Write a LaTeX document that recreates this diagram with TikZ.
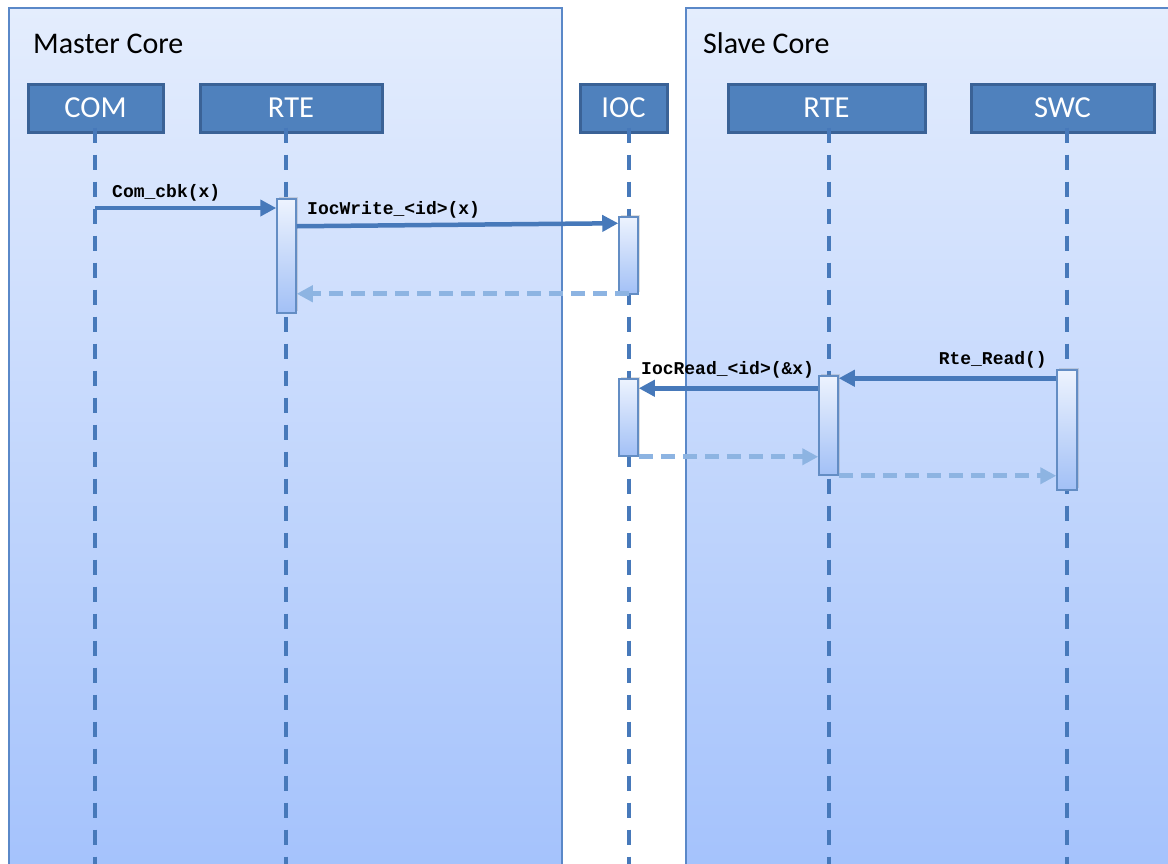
\documentclass[tikz,border=0pt]{standalone}
\usepackage{fontspec}
\setmainfont{Carlito}
\newfontfamily\codefont{Liberation Mono}
\usetikzlibrary{arrows.meta,calc,shadows}
\definecolor{panelTop}{HTML}{E4EDFD}
\definecolor{panelBot}{HTML}{A4C2FC}
\definecolor{panelLine}{HTML}{5A88C8}
\definecolor{headFill}{HTML}{4F81BD}
\definecolor{headLine}{HTML}{3A6296}
\definecolor{life}{HTML}{4779BA}
\definecolor{retLine}{HTML}{8DB4E2}
\definecolor{barTop}{HTML}{EDF3FE}
\definecolor{barBot}{HTML}{A2C0F6}

\tikzset{
  header/.style={draw=headLine, line width=3, fill=headFill, text=white,
    font=\fontsize{30.5}{34}\selectfont, inner sep=0, minimum height=48},
  lifeline/.style={draw=life, line width=3.2, dash pattern=on 15 off 12},
  actbar/.style={draw=life!85, line width=1.5, top color=barTop, bottom color=barBot,
    inner sep=0, minimum width=19,
    drop shadow={opacity=0.25, shadow xshift=1.5, shadow yshift=-2}},
  call/.style={draw=life, line width=4.5, -{Triangle[length=16,width=16]}},
  ret/.style={draw=retLine, line width=5, dash pattern=on 14 off 8,
    -{Triangle[length=16,width=16]}},
  msg/.style={font=\codefont\bfseries\fontsize{18}{20}\selectfont, inner sep=0},
  corename/.style={font=\fontsize{30}{34}\selectfont, inner sep=0, anchor=base west}
}

\begin{document}
\begin{tikzpicture}[x=1pt,y=-1pt]
  \clip (0,0) rectangle (1168,863);
  \useasboundingbox (0,0) rectangle (1168,863);

  % the two cores
  \shade[top color=panelTop, bottom color=panelBot] (9,8) rectangle (562,875);
  \draw[panelLine, line width=1.2] (9,875) -- (9,8) -- (562,8) -- (562,875);
  \shade[top color=panelTop, bottom color=panelBot] (686,8) rectangle (1180,875);
  \draw[panelLine, line width=1.2] (686,875) -- (686,8) -- (1180,8);
  \node[corename] (master) at (33,53) {Master Core};
  \node[corename] (slave) at (703,53) {Slave Core};

  % participants
  \node[header, minimum width=135] (com) at (95.5,108) {COM};
  \node[header, minimum width=182] (rteM) at (291,108) {RTE};
  \node[header, minimum width=87] (ioc) at (623.5,108) {IOC};
  \node[header, minimum width=197] (rteS) at (826.5,108) {RTE};
  \node[header, minimum width=183] (swc) at (1062.5,108) {SWC};

  % lifelines
  \coordinate (lcom) at (95,866);
  \coordinate (lrteM) at (286,866);
  \coordinate (lioc) at (629,866);
  \coordinate (lrteS) at (829,866);
  \coordinate (lswc) at (1067,866);
  \foreach \p/\l in {com/lcom, rteM/lrteM, ioc/lioc, rteS/lrteS, swc/lswc}
    \draw[lifeline] ($(\p.south -| \l)+(0,-6)$) -- (\l);

  % activations
  \node[actbar, minimum height=114] (actRteM) at (286.5,256) {};
  \node[actbar, minimum height=77] (actIocW) at (628.5,255.5) {};
  \node[actbar, minimum height=77] (actIocR) at (628.5,417.5) {};
  \node[actbar, minimum height=99] (actRteS) at (828.5,425.5) {};
  \node[actbar, minimum height=120, minimum width=20] (actSwc) at (1067,430) {};

  % master core calls
  \coordinate (cbk) at (95,208);
  \coordinate (wrFrom) at ($(actRteM.north east)+(0,28)$);
  \coordinate (wrTo) at ($(actIocW.north west)+(0,7)$);
  \coordinate (wrBack) at ($(actIocW.south)+(0,-1)$);
  \draw[call] (cbk) -- (cbk -| actRteM.west);
  \node[msg, anchor=base west] (cbkLbl) at (112,197) {Com\_cbk(x)};
  \draw[call] (wrFrom) -- (wrTo);
  \node[msg, anchor=base west] (wrLbl) at (307,214) {IocWrite\_<id>(x)};
  \draw[ret] (wrBack) -- (wrBack -| actRteM.east);

  % slave core calls
  \coordinate (rdFrom) at ($(actSwc.north west)+(0,9)$);
  \coordinate (irFrom) at ($(actRteS.north west)+(0,13)$);
  \draw[call] (rdFrom) -- (rdFrom -| actRteS.east);
  \node[msg, anchor=base east] (rdLbl) at (1047,364) {Rte\_Read()};
  \draw[call] (irFrom) -- (irFrom -| actIocR.east);
  \node[msg, anchor=base west] (irLbl) at (641,374) {IocRead\_<id>(\&x)};
  \draw[ret] (actIocR.south east) -- (actIocR.south east -| actRteS.west);
  \draw[ret] (actRteS.south east) -- (actRteS.south east -| actSwc.west);
\end{tikzpicture}
\end{document}
